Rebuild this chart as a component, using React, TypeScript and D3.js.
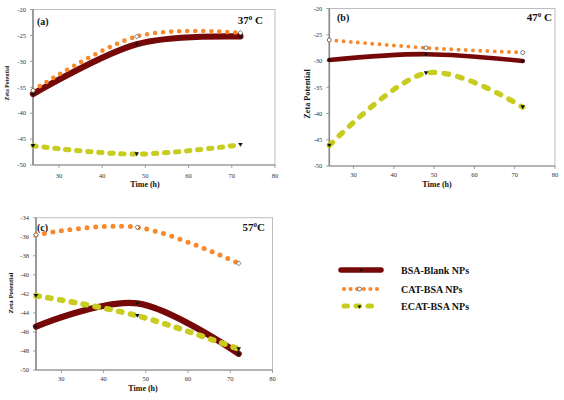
import React from "react";
import * as d3 from "d3";

// ---------- data ----------
const times = [24, 48, 72];
const xTicks = [30, 40, 50, 60, 70, 80];
const yTicksAB = [-50, -45, -40, -35, -30, -25, -20];
const yTicksC = [-50, -48, -46, -44, -42, -40, -38, -36, -34];

const bsaA = [-36.3, -26.7, -25.2];
const catA = [-35.6, -25.2, -24.5];
const ecatA = [-46.3, -47.9, -46.1];

const bsaB = [-29.8, -28.7, -30.0];
const catB = [-26.0, -27.5, -28.4];
const ecatB = [-46.1, -32.3, -38.8];

const bsaC = [-45.45, -43.0, -48.3];
const catC = [-35.8, -35.0, -38.8];
const ecatC = [-42.2, -44.3, -47.8];

const seriesNames = ["BSA-Blank NPs", "CAT-BSA NPs", "ECAT-BSA NPs"];
const panelLabels = ["(a)", "(b)", "(c)"];
const temps = ["37", "47", "57"];
const tempUnits = [" C", " C", "C"];
const xTitle = "Time (h)";
const yTitle = "Zeta Potential";

// ---------- style ----------
const FONT = "'Liberation Serif', 'Times New Roman', serif";
const C_BSA = "#760808";
const C_CAT = "#f7892b";
const C_ECAT = "#c8cc1e";

type PanelCfg = {
  left: number; right: number; top: number; bottom: number;
  yDomain: [number, number]; yTicks: number[];
  bsa: number[]; cat: number[]; ecat: number[];
  idx: number;
  bsaW: number; ecatW: number; ecatDash: string; catW: number; catDash: string;
  yTitleX: number; yTitleY: number; yTitleSize: number;
  labelX: number; labelY: number; tempX: number; tempY: number;
  xTickY: number; xTitleX: number; xTitleY: number;
  catMarker: "diamond" | "circle";
};

const panels: PanelCfg[] = [
  {
    left: 33, right: 275, top: 9.5, bottom: 165,
    yDomain: [-50, -20], yTicks: yTicksAB,
    bsa: bsaA, cat: catA, ecat: ecatA, idx: 0,
    bsaW: 6.2, ecatW: 5, ecatDash: "3.3 7.7", catW: 4.6, catDash: "0 8",
    yTitleX: 8, yTitleY: 83, yTitleSize: 5.8,
    labelX: 37, labelY: 25, tempX: 263, tempY: 24,
    xTickY: 177.5, xTitleX: 145, xTitleY: 187,
    catMarker: "diamond",
  },
  {
    left: 329.3, right: 555, top: 8.5, bottom: 166,
    yDomain: [-50, -20], yTicks: yTicksAB,
    bsa: bsaB, cat: catB, ecat: ecatB, idx: 1,
    bsaW: 4.6, ecatW: 5.3, ecatDash: "4.7 9.3", catW: 3.9, catDash: "0 7.2",
    yTitleX: 308, yTitleY: 94, yTitleSize: 8.2,
    labelX: 337, labelY: 21, tempX: 552, tempY: 21,
    xTickY: 176.5, xTitleX: 437, xTitleY: 187,
    catMarker: "circle",
  },
  {
    left: 36, right: 272.5, top: 217.7, bottom: 370,
    yDomain: [-50, -34], yTicks: yTicksC,
    bsa: bsaC, cat: catC, ecat: ecatC, idx: 2,
    bsaW: 6.2, ecatW: 5.7, ecatDash: "3.3 8.7", catW: 5, catDash: "0 8.6",
    yTitleX: 11, yTitleY: 293, yTitleSize: 6.8,
    labelX: 37, labelY: 231, tempX: 265, tempY: 231,
    xTickY: 381, xTitleX: 143, xTitleY: 391,
    catMarker: "diamond",
  },
];

function diamond(cx: number, cy: number, r: number) {
  return `M${cx},${cy - r}L${cx + r},${cy}L${cx},${cy + r}L${cx - r},${cy}Z`;
}
function triDown(cx: number, cy: number, r: number) {
  return `M${cx - r},${cy - r * 0.8}L${cx + r},${cy - r * 0.8}L${cx},${cy + r * 0.9}Z`;
}

function Panel({ p }: { p: PanelCfg }) {
  const x = d3.scaleLinear().domain([24, 80]).range([p.left, p.right]);
  const y = d3.scaleLinear().domain(p.yDomain).range([p.bottom, p.top]);
  const line = d3
    .line<[number, number]>()
    .x((d) => x(d[0]))
    .y((d) => y(d[1]))
    .curve(d3.curveCardinal.tension(0));
  const pts = (vals: number[]) => times.map((t, i) => [t, vals[i]] as [number, number]);

  return (
    <g>
      <rect x={p.left} y={p.top} width={p.right - p.left} height={p.bottom - p.top}
        fill="none" stroke="#bdbdbd" strokeWidth={1} />
      <line x1={p.left} x2={p.left} y1={p.top} y2={p.bottom} stroke="#8a8a8a" strokeWidth={1.6} />
      <line x1={p.left} x2={p.right} y1={p.bottom} y2={p.bottom} stroke="#8a8a8a" strokeWidth={1.2} />
      {p.yTicks.map((v) => (
        <g key={"y" + v}>
          <line x1={p.left - 3} x2={p.left} y1={y(v)} y2={y(v)} stroke="#8a8a8a" strokeWidth={0.8} />
          <text x={p.left - 7} y={y(v) + 2.3} fontSize={6.5} textAnchor="end" fill="#333" fontFamily={FONT}>
            {String(v)}
          </text>
        </g>
      ))}
      {xTicks.map((v) => (
        <g key={"x" + v}>
          <line x1={x(v)} x2={x(v)} y1={p.bottom} y2={p.bottom + 3} stroke="#8a8a8a" strokeWidth={0.8} />
          <text x={x(v)} y={p.xTickY} fontSize={6.5} textAnchor="middle" fill="#333" fontFamily={FONT}>
            {String(v)}
          </text>
        </g>
      ))}
      <text x={p.xTitleX} y={p.xTitleY} fontSize={8} fontWeight="bold" textAnchor="middle" fontFamily={FONT} fill="#111">
        {xTitle}
      </text>
      <text transform={`translate(${p.yTitleX},${p.yTitleY}) rotate(-90)`} fontSize={p.yTitleSize}
        fontWeight="bold" textAnchor="middle" dominantBaseline="middle" fontFamily={FONT} fill="#111">
        {yTitle}
      </text>
      <text x={p.labelX} y={p.labelY} fontSize={10} fontWeight="bold" fontFamily={FONT} fill="#111">
        {panelLabels[p.idx]}
      </text>
      <text x={p.tempX} y={p.tempY} fontSize={11} fontWeight="bold" textAnchor="end" fontFamily={FONT} fill="#111">
        {temps[p.idx]}
        <tspan dy={-4} fontSize={7}>0</tspan>
        <tspan dy={4}>{tempUnits[p.idx]}</tspan>
      </text>
      <path d={line(pts(p.bsa)) || ""} fill="none" stroke={C_BSA} strokeWidth={p.bsaW} strokeLinecap="round" />
      <path d={line(pts(p.cat)) || ""} fill="none" stroke={C_CAT} strokeWidth={p.catW} strokeLinecap="round"
        strokeDasharray={p.catDash} />
      <path d={line(pts(p.ecat)) || ""} fill="none" stroke={C_ECAT} strokeWidth={p.ecatW} strokeLinecap="round"
        strokeDasharray={p.ecatDash} />
      {times.map((t, i) => (
        <g key={"m" + i}>
          <path d={diamond(x(t), y(p.bsa[i]), 2)} fill="#111" />
          {p.catMarker === "diamond" ? (
            <path d={diamond(x(t), y(p.cat[i]), 2.4)} fill="#fff" stroke="#444" strokeWidth={0.7} />
          ) : (
            <circle cx={x(t)} cy={y(p.cat[i])} r={2} fill="#fff" stroke="#444" strokeWidth={0.7} />
          )}
          <path d={triDown(x(t), y(p.ecat[i]), 2.3)} fill="#111" />
        </g>
      ))}
    </g>
  );
}

function Legend() {
  const rows = [270, 289, 306];
  const x0 = 341, x1 = 381, tx = 401;
  return (
    <g>
      <line x1={x0} x2={x1} y1={rows[0]} y2={rows[0]} stroke={C_BSA} strokeWidth={5.5} strokeLinecap="round" />
      <path d={diamond((x0 + x1) / 2, rows[0], 1.8)} fill="#111" />
      <line x1={x0 + 3} x2={x1 - 2} y1={rows[1]} y2={rows[1]} stroke={C_CAT} strokeWidth={4.2}
        strokeLinecap="round" strokeDasharray="0 6.6" />
      <circle cx={(x0 + x1) / 2 - 1.5} cy={rows[1]} r={2} fill="#fff" stroke="#444" strokeWidth={0.7} />
      <line x1={x0 + 3} x2={x1 - 2} y1={rows[2]} y2={rows[2]} stroke={C_ECAT} strokeWidth={5}
        strokeLinecap="round" strokeDasharray="3.5 8.5" />
      <path d={triDown((x0 + x1) / 2 - 1.5, rows[2] + 1, 2)} fill="#111" />
      {seriesNames.map((s, i) => (
        <text key={s} x={tx} y={rows[i] + 3.5} fontSize={10} fontWeight="bold" fontFamily={FONT} fill="#111">
          {s}
        </text>
      ))}
    </g>
  );
}

export default function App() {
  return (
    <svg width={564} height={400} style={{ position: "absolute", left: 0, top: 0, background: "#fff" }}>
      <rect width={564} height={400} fill="#fff" />
      {panels.map((p) => (
        <Panel key={p.idx} p={p} />
      ))}
      <Legend />
    </svg>
  );
}
